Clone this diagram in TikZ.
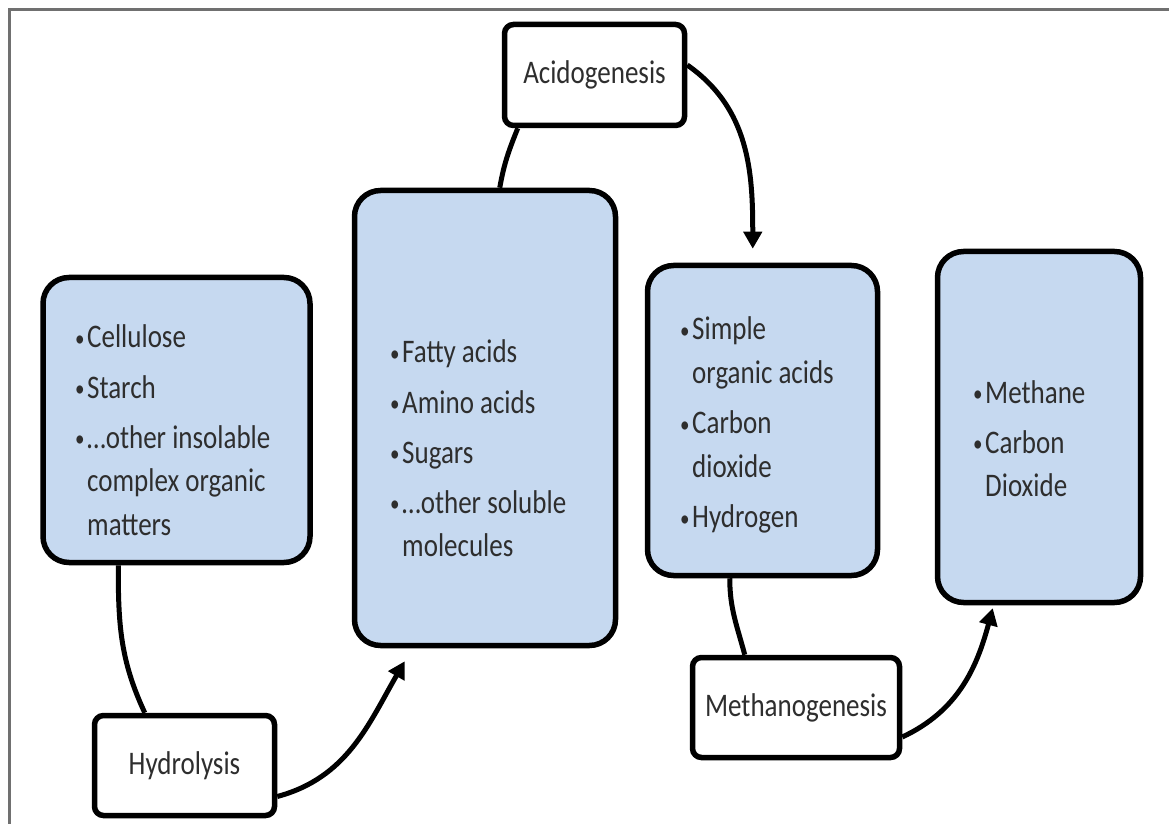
\documentclass[tikz,border=0pt]{standalone}
\usepackage{fontspec}
\setmainfont{Carlito}
\usepackage{graphicx}
\usetikzlibrary{arrows.meta}
\definecolor{boxfill}{HTML}{C6D9F0}
\definecolor{framegray}{HTML}{707070}
\definecolor{txt}{HTML}{2E2E2E}
\newcommand{\tallbox}[1]{\scalebox{1}[1.22]{#1}}
\newcommand{\bul}{\makebox[12pt][l]{\raisebox{1.5pt}{\fontsize{19}{19}\selectfont •}}}
\newcommand{\ind}{\hspace*{12pt}}
\begin{document}
\begin{tikzpicture}[x=1pt,y=1pt,
  bigbox/.style={draw=black, line width=5.5pt, fill=boxfill, rounded corners=26pt, inner sep=0pt},
  stagebox/.style={draw=black, line width=5.5pt, fill=white, rounded corners=9pt, inner sep=0pt,
    font=\fontsize{27}{32}\selectfont, text=txt},
  listtext/.style={anchor=base west, inner sep=0pt, font=\fontsize{27}{36}\selectfont, text=txt},
  connector/.style={line width=5pt},
  arrowlink/.style={line width=5pt, -{Triangle[width=18pt,length=17pt]}}]
\useasboundingbox (0,0) rectangle (1169,823);
\clip (0,0) rectangle (1169,823);
\fill[white] (0,0) rectangle (1169,823);
\draw[framegray, line width=2.5pt] (9.5,-20) -- (9.5,813.5) -- (1190,813.5);

% substrate / product boxes
\node[bigbox, minimum width=267pt, minimum height=285pt] (b1) at (176.5,403) {};
\node[bigbox, minimum width=261pt, minimum height=455pt] (b2) at (485,405) {};
\node[bigbox, minimum width=230pt, minimum height=310pt] (b3) at (762.5,402.5) {};
\node[bigbox, minimum width=203pt, minimum height=351pt] (b4) at (1039,396) {};

% stage boxes
\node[stagebox, minimum width=180pt, minimum height=101pt] (acid) at (594.5,748) {\tallbox{Acidogenesis}};
\node[stagebox, minimum width=180pt, minimum height=100pt] (hyd) at (184.5,57.5) {\tallbox{Hydrolysis}};
\node[stagebox, minimum width=207pt, minimum height=100pt] (meth) at (796,115.5) {\tallbox{Methanogenesis}};

% list texts
\node[listtext] (t1) at (75,475) {\tallbox{\begin{tabular}[t]{@{}l@{}}
\bul Cellulose\\[5pt]
\bul Starch\\[5pt]
\bul …other insolable\\
\ind complex organic\\
\ind matters
\end{tabular}}};
\node[listtext] (t2) at (390,460) {\tallbox{\begin{tabular}[t]{@{}l@{}}
\bul Fatty acids\\[5pt]
\bul Amino acids\\[5pt]
\bul Sugars\\[5pt]
\bul …other soluble\\
\ind molecules
\end{tabular}}};
\node[listtext] (t3) at (680,483) {\tallbox{\begin{tabular}[t]{@{}l@{}}
\bul Simple\\
\ind organic acids\\[5pt]
\bul Carbon\\
\ind dioxide\\[5pt]
\bul Hydrogen
\end{tabular}}};
\node[listtext] (t4) at (973,420) {\tallbox{\begin{tabular}[t]{@{}l@{}}
\bul Methane\\[5pt]
\bul Carbon\\
\ind Dioxide
\end{tabular}}};

% connectors
\draw[connector] ([xshift=78pt]b1.south west) to[out=-90,in=115] ([xshift=53pt]hyd.north west);
\draw[arrowlink] ([yshift=-31pt]hyd.east) to[out=15,in=-120] ([xshift=53pt,yshift=-13pt]b2.south west);
\draw[connector] ([xshift=148pt]b2.north west) to[out=80,in=-112] ([xshift=16pt]acid.south west);
\draw[arrowlink] ([yshift=10pt]acid.east) to[out=-35,in=90] ([xshift=108pt,yshift=14pt]b3.north west);
\draw[connector] ([xshift=85pt]b3.south west) to[out=-90,in=105] ([xshift=55pt]meth.north west);
\draw[arrowlink] ([yshift=-29.5pt]meth.east) to[out=25,in=-105] ([xshift=58pt,yshift=-3pt]b4.south west);
\end{tikzpicture}
\end{document}
